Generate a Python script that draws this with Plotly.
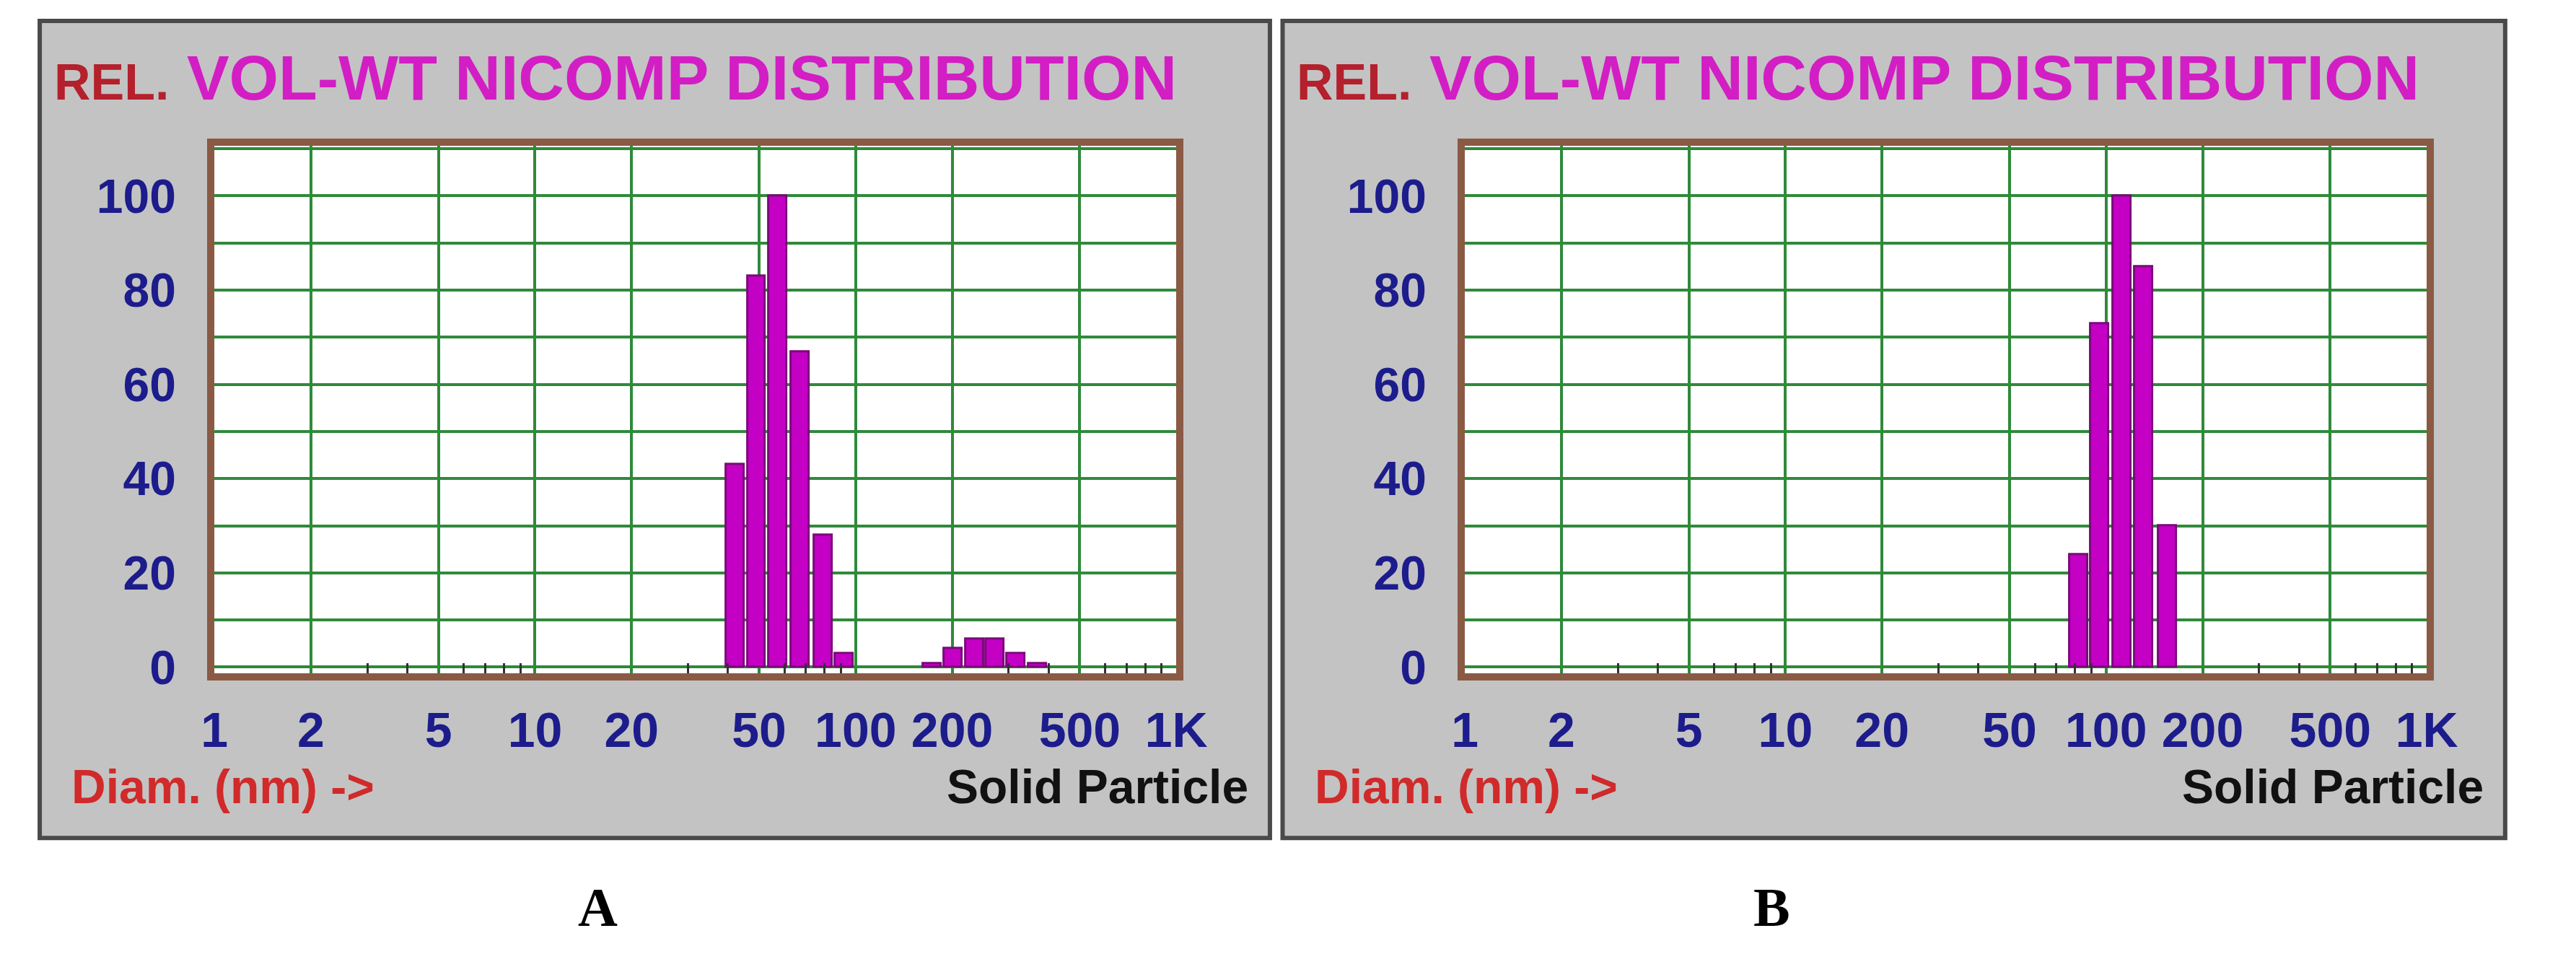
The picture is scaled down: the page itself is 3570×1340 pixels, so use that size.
import numpy as np
import plotly.graph_objects as go

# panel A: two populations
diam_a = [42, 49, 57, 67, 79, 92, 173, 201, 235, 271, 316, 369]
rel_a = [43, 83, 100, 67, 28, 3, 0.8, 4, 6, 6, 3, 0.8]
# panel B: single population
diam_b = [82, 95.5, 112, 131, 155]
rel_b = [24, 73, 100, 85, 30]

label_vals = [1, 2, 5, 10, 20, 50, 100, 200, 500, 1000]
label_text = ["1", "2", "5", "10", "20", "50", "100", "200", "500", "1K"]
grid_vals = [2, 5, 10, 20, 50, 100, 200, 500]
minor_vals = [3, 4, 6, 7, 8, 9, 30, 40, 60, 70, 80, 90, 300, 400, 600, 700, 800, 900]

GREEN = "#2f8a3a"
BROWN = "#8a5a44"
FONT = "Liberation Sans"

fig = go.Figure()

panels = [
    (diam_a, rel_a, 0.077, 0.457, 0.008, 0.494, "A", 0.22),
    (diam_b, rel_b, 0.571, 0.951, 0.499, 0.982, "B", 0.70),
]

for i, (d, r, x0, x1, fx0, fx1, tag, tagx) in enumerate(panels):
    n = 2 * i + 1
    sfx = "" if n == 1 else str(n)
    xa, ya = f"x{sfx}", f"y{sfx}"
    xo = f"x{n + 1}"
    fig.add_trace(go.Bar(
        x=np.log10(d), y=r, width=0.056, xaxis=xa, yaxis=ya,
        marker=dict(color="#c400c4", line=dict(color="#7a0a7a", width=3)),
        showlegend=False,
    ))
    # grey instrument panel behind, white plot area on top of it
    fig.add_shape(type="rect", xref="paper", yref="paper",
                  x0=fx0, x1=fx1, y0=0.121, y1=0.984,
                  fillcolor="#c3c3c3", line=dict(color="#4a4a4a", width=6), layer="below")
    fig.add_shape(type="rect", xref=f"{xa} domain", yref=f"{ya} domain",
                  x0=0, x1=1, y0=0, y1=1,
                  fillcolor="white", line=dict(width=0), layer="below")
    fig.layout[f"xaxis{sfx}"] = dict(
        domain=[x0, x1], anchor=ya, range=[0, 3], showgrid=False,
        tickvals=np.log10(label_vals), ticktext=label_text, ticks="",
        tickfont=dict(family=FONT, size=68, color="#1c1c8c", weight="bold"),
        ticklabelstandoff=10,
        minor=dict(tickvals=np.log10(grid_vals), showgrid=True, gridcolor=GREEN,
                   gridwidth=4, ticks=""),
        showline=True, linecolor=BROWN, linewidth=10, mirror=True, zeroline=False,
    )
    fig.layout[f"yaxis{sfx}"] = dict(
        domain=[0.295, 0.852], anchor=xa, range=[-1.3, 110.6],
        tickvals=[0, 20, 40, 60, 80, 100], showgrid=True, gridcolor=GREEN, gridwidth=4,
        tickfont=dict(family=FONT, size=66, color="#1c1c8c", weight="bold"),
        ticklabelstandoff=30,
        minor=dict(dtick=10, showgrid=True, gridcolor=GREEN, gridwidth=4,
                   ticks="inside", ticklen=14, tickcolor=GREEN),
        ticks="inside", ticklen=14, tickcolor=GREEN, zeroline=False,
        showline=True, linecolor=BROWN, linewidth=10, mirror=True,
    )
    # overlay axis for the small decade tick marks at top and bottom
    fig.layout[f"xaxis{n + 1}"] = dict(
        domain=[x0, x1], anchor=ya, overlaying=xa, range=[0, 3],
        tickvals=np.log10(minor_vals), ticks="inside", ticklen=14, tickwidth=3,
        tickcolor="#333333", showticklabels=False, showgrid=False, zeroline=False,
    )
    fig.add_trace(go.Scatter(x=[None], y=[None], xaxis=xo, yaxis=ya, showlegend=False))

    fig.add_annotation(xref="paper", yref="paper", x=fx0 + 0.005, y=0.924,
                       xanchor="left", yanchor="middle",
                       text="<span style='color:#b4202c;font-size:70px'>REL.</span> VOL-WT NICOMP DISTRIBUTION",
                       showarrow=False,
                       font=dict(family=FONT, size=88, color="#d21ec4", weight="bold"))
    fig.add_annotation(xref="paper", yref="paper", x=fx0 + 0.012, y=0.175,
                       xanchor="left", yanchor="middle",
                       text="Diam. (nm) ->", showarrow=False,
                       font=dict(family=FONT, size=66, color="#d02a2a", weight="bold"))
    fig.add_annotation(xref="paper", yref="paper", x=fx1 - 0.008, y=0.175,
                       xanchor="right", yanchor="middle",
                       text="Solid Particle", showarrow=False,
                       font=dict(family=FONT, size=66, color="#111111", weight="bold"))
    fig.add_annotation(xref="paper", yref="paper", x=tagx, y=0.048, yanchor="middle",
                       text="<b>" + tag + "</b>", showarrow=False,
                       font=dict(family="Liberation Serif", size=76, color="black"))

fig.update_layout(
    width=3570, height=1340, margin=dict(l=0, r=0, t=0, b=0),
    paper_bgcolor="white", plot_bgcolor="white", bargap=0,
)

fig.write_html("out.html")
